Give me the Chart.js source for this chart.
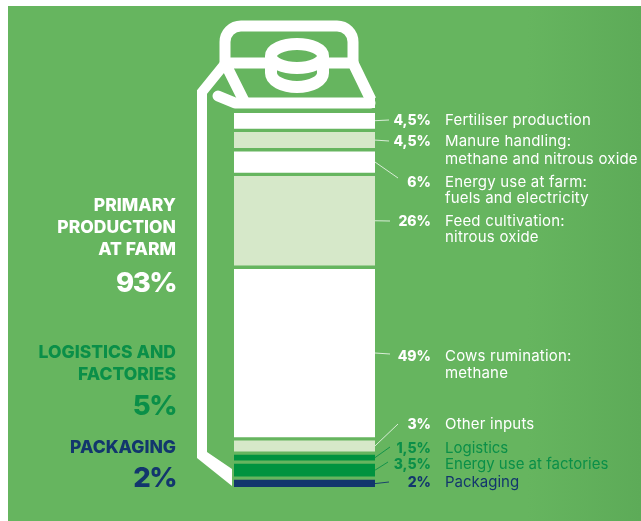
<!DOCTYPE html>
<html>
<head>
<meta charset="utf-8">
<title>Carbon footprint of a milk carton</title>
<script src="https://cdn.jsdelivr.net/npm/chart.js@4"></script>
<style>
    html, body { margin: 0; padding: 0; background: #fff; overflow: hidden; }
    #panel {
        position: absolute; left: 8px; top: 6px; width: 633px; height: 515px;
        background: linear-gradient(90deg, #66b55f 0%, #66b55f 82%, #5dab58 100%);
    }
    #chart { position: absolute; left: 0; top: 0; }
</style>
</head>
<body>
<div id="panel"></div>
<canvas id="chart" width="641" height="521"></canvas>
<script>
// Contribution of each stage, listed from the top of the carton down
const categories = ['Fertiliser production', 'Manure handling', 'Energy use at farm', 'Feed cultivation',
    'Cows rumination', 'Other inputs', 'Logistics', 'Energy use at factories', 'Packaging'];
const shares = [4.5, 4.5, 6, 26, 49, 3, 1.5, 3.5, 2];
const captions = [
    ['Fertiliser production'],
    ['Manure handling:', 'methane and nitrous oxide'],
    ['Energy use at farm:', 'fuels and electricity'],
    ['Feed cultivation:', 'nitrous oxide'],
    ['Cows rumination:', 'methane'],
    ['Other inputs'],
    ['Logistics'],
    ['Energy use at factories'],
    ['Packaging']
];
const groupTitles = [['PRIMARY', 'PRODUCTION', 'AT FARM'], ['LOGISTICS AND', 'FACTORIES'], ['PACKAGING']];
const groupShares = [93, 5, 2];

const WHITE = '#ffffff';
const PALE = '#d6e8c9';
const GREEN = '#00933f';
const NAVY = '#12366d';
const segmentColors = [WHITE, PALE, WHITE, PALE, WHITE, PALE, GREEN, GREEN, NAVY];
const textColors = [WHITE, WHITE, WHITE, WHITE, WHITE, WHITE, '#0a8f48', '#0a8f48', NAVY];

// Space between two segments, in percentage points
const GAP = 1.17;

// Floating bars, so the gaps do not count towards the shares
let cursor = 0;
const ranges = shares.map(value => {
    const range = [cursor, cursor + value];
    cursor += value + GAP;
    return range;
});
const axisMax = cursor - GAP;

// Where each caption sits: baseline of its rows and end of its leader line
const rows = [[125], [146, 164], [187, 203], [226, 242], [361, 378], [429], [453], [469], [487]];
const leaderEnds = [[389, 120], [389, 141], [398, 178], [390, 221], [390, 354], [398, 424], [390, 447], [388, 462], [389, 482]];

const groupRows = [
    { title: [211, 233, 255], share: 292 },
    { title: [358, 380], share: 415 },
    { title: [453], share: 487 }
];
const groupColors = [WHITE, '#0a8f48', NAVY];

function formatShare(value) {
    return String(value).replace('.', ',') + '%';
}

const cartonPlugin = {
    id: 'carton',
    beforeDatasetsDraw(chart) {
        const ctx = chart.ctx;
        ctx.save();
        ctx.strokeStyle = WHITE;
        ctx.fillStyle = WHITE;
        ctx.lineWidth = 11;
        ctx.lineJoin = 'round';

        // Handle on top of the roof
        ctx.beginPath();
        ctx.moveTo(225, 66);
        ctx.lineTo(225, 42);
        ctx.arcTo(225, 26, 241, 26, 16);
        ctx.lineTo(337, 26);
        ctx.arcTo(353, 26, 353, 42, 16);
        ctx.lineTo(353, 66);
        ctx.stroke();

        // Roof edges and ridge, the ridge stops at the cap
        ctx.beginPath();
        ctx.moveTo(225, 63);
        ctx.lineTo(271, 63);
        ctx.moveTo(323, 63);
        ctx.lineTo(353, 63);
        ctx.moveTo(225, 63);
        ctx.lineTo(245, 103);
        ctx.moveTo(353, 63);
        ctx.lineTo(371, 100);
        ctx.stroke();

        // Fold under the roof, with its rounded tip
        ctx.lineCap = 'round';
        ctx.beginPath();
        ctx.moveTo(218, 96);
        ctx.lineTo(235, 103);
        ctx.lineTo(370, 103);
        ctx.stroke();
        ctx.lineCap = 'butt';
        ctx.fillRect(365, 98, 10, 10);

        // Screw cap
        ctx.lineWidth = 12;
        ctx.beginPath();
        ctx.ellipse(297, 56, 26, 12, 0, 0, Math.PI * 2);
        ctx.stroke();
        ctx.beginPath();
        ctx.moveTo(323, 56);
        ctx.lineTo(323, 73);
        ctx.ellipse(297, 73, 26, 14, 0, 0, Math.PI);
        ctx.lineTo(271, 56);
        ctx.stroke();

        // Left wall of the carton and its slanted foot
        ctx.lineWidth = 10;
        ctx.lineJoin = 'miter';
        ctx.beginPath();
        ctx.moveTo(228, 60);
        ctx.lineTo(202, 92);
        ctx.lineTo(202, 445);
        ctx.stroke();
        ctx.beginPath();
        ctx.moveTo(197, 440);
        ctx.lineTo(207, 440);
        ctx.lineTo(207, 452);
        ctx.lineTo(232, 469);
        ctx.lineTo(232, 486);
        ctx.lineTo(197, 458);
        ctx.closePath();
        ctx.fill();
        ctx.restore();
    },
    afterDatasetsDraw(chart) {
        const ctx = chart.ctx;
        const { right } = chart.chartArea;
        const y = chart.scales.y;
        ctx.save();
        ctx.textBaseline = 'alphabetic';

        ranges.forEach((range, i) => {
            // Leader line from the middle of the segment
            ctx.strokeStyle = textColors[i];
            ctx.globalAlpha = i < 6 ? 0.75 : 0.9;
            ctx.lineWidth = 1;
            ctx.beginPath();
            ctx.moveTo(right, y.getPixelForValue((range[0] + range[1]) / 2));
            ctx.lineTo(leaderEnds[i][0], leaderEnds[i][1]);
            ctx.stroke();
            ctx.globalAlpha = 1;

            ctx.fillStyle = textColors[i];
            ctx.textAlign = 'right';
            ctx.letterSpacing = '0px';
            ctx.font = '800 14px Inter';
            ctx.fillText(formatShare(shares[i]), 431, rows[i][0]);

            // The three coloured rows at the bottom are set tighter
            ctx.textAlign = 'left';
            ctx.letterSpacing = i < 6 ? '0.2px' : '0px';
            ctx.font = '400 15px Inter';
            captions[i].forEach((line, n) => ctx.fillText(line, 445, rows[i][n]));
        });

        // Group totals on the left of the carton
        ctx.textAlign = 'right';
        groupTitles.forEach((lines, i) => {
            ctx.fillStyle = groupColors[i];
            ctx.letterSpacing = '0px';
            ctx.font = '800 17.5px Inter';
            lines.forEach((line, n) => ctx.fillText(line, 176, groupRows[i].title[n]));
            ctx.letterSpacing = '-1.5px';
            ctx.font = '800 27.5px Inter';
            ctx.fillText(groupShares[i] + '%', 176, groupRows[i].share);
        });
        ctx.restore();
    }
};

new Chart(document.getElementById('chart'), {
    type: 'bar',
    data: {
        labels: ['Milk carton'],
        datasets: categories.map((name, i) => ({
            label: name,
            data: [ranges[i]],
            backgroundColor: segmentColors[i],
            borderWidth: 0,
            grouped: false,
            barPercentage: 1,
            categoryPercentage: 1
        }))
    },
    plugins: [cartonPlugin],
    options: {
        responsive: false,
        animation: false,
        layout: { padding: { left: 234, right: 266, top: 113, bottom: 34 } },
        plugins: {
            legend: { display: false },
            tooltip: { enabled: false }
        },
        scales: {
            x: { display: false },
            y: { display: false, reverse: true, min: 0, max: axisMax }
        }
    }
});
</script>
</body>
</html>
